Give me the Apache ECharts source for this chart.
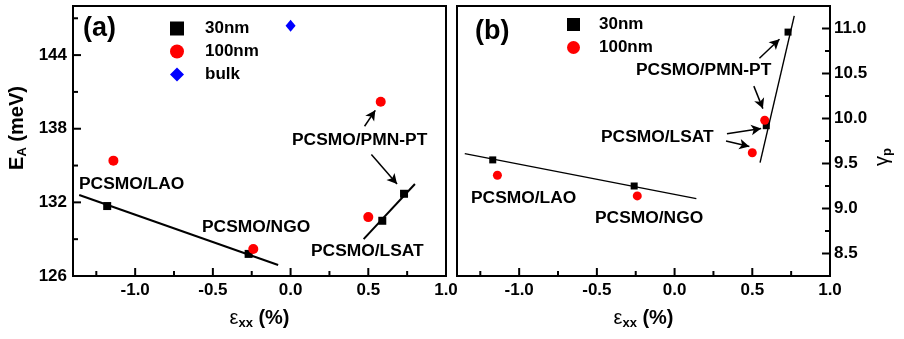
<!DOCTYPE html>
<html>
<head>
<meta charset="utf-8">
<script src="https://cdn.jsdelivr.net/npm/echarts@6/dist/echarts.min.js"></script>
<style>
  html, body { margin: 0; background: #fff; }
  #chart { width: 904px; height: 339px; }
</style>
</head>
<body>
<div id="chart"></div>
<script>
// tick values
const xTicks = [-1.0, -0.5, 0.0, 0.5, 1.0];
const xMinor = [-1.25, -0.75, -0.25, 0.25, 0.75];
const eaTicks = [126, 132, 138, 144];
const eaMinor = [129, 135, 141, 147];
const gTicks = [8.5, 9.0, 9.5, 10.0, 10.5, 11.0];
const gMinor = [8.75, 9.25, 9.75, 10.25, 10.75];

// (a) activation energy E_A (meV) vs strain
const ea30 = [[-1.18, 131.7], [-0.27, 127.8], [0.59, 130.5], [0.73, 132.7]];
const ea100 = [[-1.14, 135.4], [-0.24, 128.2], [0.50, 130.8], [0.58, 140.2]];
const eaBulk = [[0.0, 146.4]];
const eaFit1 = [[-1.36, 132.6], [-0.08, 126.9]];
const eaFit2 = [[0.47, 129.0], [0.80, 133.5]];
const eaArrows = [
  [[0.476, 138.2], [0.545, 139.5]],
  [[0.520, 135.9], [0.685, 133.5]]
];

// (b) gamma_p vs strain
const g30 = [[-1.17, 9.54], [-0.26, 9.25], [0.59, 9.92], [0.73, 10.96]];
const g100 = [[-1.14, 9.37], [-0.24, 9.14], [0.50, 9.62], [0.58, 9.98]];
const gFit1 = [[-1.35, 9.61], [0.14, 9.11]];
const gFit2 = [[0.55, 9.51], [0.77, 11.14]];
const gArrows = [
  [[0.546, 10.67], [0.675, 10.88]],
  [[0.510, 10.36], [0.568, 10.11]],
  [[0.337, 9.83], [0.557, 9.89]],
  [[0.331, 9.75], [0.481, 9.69]]
];

const X_MIN = -1.4, X_MAX = 1.0;
const EA_MIN = 126, EA_MAX = 148;
const G_MIN = 8.25, G_MAX = 11.25;

const FONT = '"Liberation Sans", Arial, sans-serif';
const bold17 = { color: '#000', fontSize: 17, fontWeight: 'bold', fontFamily: FONT };

const nameRich = {
  m: { fontSize: 20, fontWeight: 'bold', fontFamily: FONT, color: '#000', verticalAlign: 'top' },
  e: { fontSize: 20, fontFamily: FONT, color: '#000', verticalAlign: 'top' },
  s: { fontSize: 13, fontWeight: 'bold', fontFamily: FONT, color: '#000', verticalAlign: 'top', padding: [9, 0, 0, 0] }
};

function valueAxis(extra) {
  return Object.assign({
    type: 'value',
    axisLine: { show: true, onZero: false, lineStyle: { color: '#000', width: 2 } },
    axisTick: { show: false },
    splitLine: { show: false }
  }, extra);
}

// inward tick marks drawn with a custom series so they follow the axis scale
// dir: [dx, dy] direction of the tick from the axis line
function tickSeries(axisIdx, points, len, dir) {
  return {
    type: 'custom', xAxisIndex: axisIdx, yAxisIndex: axisIdx, silent: true, clip: false, z: 6,
    data: points,
    renderItem: (params, api) => {
      const p = api.coord([api.value(0), api.value(1)]);
      return {
        type: 'line',
        shape: { x1: p[0], y1: p[1], x2: p[0] + dir[0] * len, y2: p[1] + dir[1] * len },
        style: { stroke: '#000', lineWidth: 2 }
      };
    }
  };
}

const chart = echarts.init(document.getElementById('chart'));

const lineStyleA = { color: '#000', width: 2 };
const lineStyleB = { color: '#000', width: 1.4 };
const arrowMark = (list) => ({
  silent: true,
  symbol: ['none', 'arrow'],
  symbolSize: [8, 10],
  lineStyle: { color: '#000', width: 1.5, type: 'solid' },
  label: { show: false },
  emphasis: { disabled: true },
  data: list.map(a => [{ coord: a[0] }, { coord: a[1] }])
});

const notes = [
  ['(a)', 83, 29, 27],
  ['PCSMO/PMN-PT', 292, 140, 17.4],
  ['PCSMO/LAO', 79, 184, 17.4],
  ['PCSMO/NGO', 202, 227, 17.4],
  ['PCSMO/LSAT', 311, 251, 17.4],
  ['(b)', 475, 32, 27],
  ['PCSMO/PMN-PT', 636, 70, 17.4],
  ['PCSMO/LSAT', 601, 137, 17.4],
  ['PCSMO/LAO', 471, 198, 17.4],
  ['PCSMO/NGO', 595, 218, 17.4]
];

chart.setOption({
  animation: false,
  backgroundColor: '#fff',
  grid: [
    { left: 73, top: 6, width: 373, height: 270, show: true, borderColor: '#000', borderWidth: 2 },
    { left: 457, top: 6, width: 373, height: 270, show: true, borderColor: '#000', borderWidth: 2 }
  ],
  xAxis: [
    valueAxis({
      gridIndex: 0, position: 'bottom', min: X_MIN, max: X_MAX,
      axisLabel: Object.assign({ customValues: xTicks, margin: 6, formatter: v => v.toFixed(1) }, bold17),
      name: '{e|ε}{s|xx}{m| (%)}', nameLocation: 'middle', nameGap: 32,
      nameTextStyle: { rich: nameRich }
    }),
    valueAxis({
      gridIndex: 1, position: 'bottom', min: X_MIN, max: X_MAX,
      axisLabel: Object.assign({ customValues: xTicks, margin: 6, formatter: v => v.toFixed(1) }, bold17),
      name: '{e|ε}{s|xx}{m| (%)}', nameLocation: 'middle', nameGap: 32,
      nameTextStyle: { rich: nameRich }
    })
  ],
  yAxis: [
    valueAxis({
      gridIndex: 0, position: 'left', min: EA_MIN, max: EA_MAX,
      axisLabel: Object.assign({ customValues: eaTicks, margin: 6, formatter: v => String(v) }, bold17),
      name: '{m|E}{s|A}{m| (meV)}', nameLocation: 'middle', nameGap: 44, nameRotate: 90,
      nameTextStyle: { rich: nameRich, padding: [0, 0, 0, 26] }
    }),
    valueAxis({
      gridIndex: 1, position: 'right', min: G_MIN, max: G_MAX,
      axisLabel: Object.assign({ customValues: gTicks, margin: 4, formatter: v => v.toFixed(1) }, bold17),
      name: '{e|γ}{s|p}', nameLocation: 'middle', nameGap: 42, nameRotate: 90,
      nameTextStyle: { rich: nameRich, padding: [0, 32, 0, 0] }
    })
  ],
  legend: [
    {
      data: ['30nm', '100nm', 'bulk'], orient: 'vertical', left: 170, top: 17, padding: 0,
      itemWidth: 14, itemHeight: 14, itemGap: 0, selectedMode: false,
      textStyle: Object.assign({ lineHeight: 23, padding: [0, 0, 0, 16] }, bold17)
    },
    {
      data: ['30nm', '100nm'], orient: 'vertical', left: 567, top: 13, padding: 0,
      itemWidth: 13, itemHeight: 13, itemGap: 0, selectedMode: false,
      textStyle: Object.assign({ lineHeight: 23, padding: [0, 0, 0, 14] }, bold17)
    }
  ],
  graphic: notes.map(n => ({
    type: 'text', x: n[1], y: n[2], silent: true,
    style: { text: n[0], fill: '#000', fontSize: n[3], fontWeight: 'bold', fontFamily: FONT, verticalAlign: 'middle', align: 'left' }
  })),
  series: [
    { name: 'fitA1', type: 'line', xAxisIndex: 0, yAxisIndex: 0, data: eaFit1, showSymbol: false, lineStyle: lineStyleA, silent: true,
      markLine: arrowMark(eaArrows) },
    { name: 'fitA2', type: 'line', xAxisIndex: 0, yAxisIndex: 0, data: eaFit2, showSymbol: false, lineStyle: lineStyleA, silent: true },
    { name: '30nm', type: 'scatter', xAxisIndex: 0, yAxisIndex: 0, data: ea30, symbol: 'rect', symbolSize: 8, itemStyle: { color: '#000', opacity: 1 } },
    { name: '100nm', type: 'scatter', xAxisIndex: 0, yAxisIndex: 0, data: ea100, symbol: 'circle', symbolSize: 10, itemStyle: { color: '#ff0000', opacity: 1 } },
    { name: 'bulk', type: 'scatter', xAxisIndex: 0, yAxisIndex: 0, data: eaBulk, symbol: 'diamond', symbolSize: [10, 12], itemStyle: { color: '#0000ff', opacity: 1 } },

    { name: 'fitB1', type: 'line', xAxisIndex: 1, yAxisIndex: 1, data: gFit1, showSymbol: false, lineStyle: lineStyleB, silent: true,
      markLine: arrowMark(gArrows) },
    { name: 'fitB2', type: 'line', xAxisIndex: 1, yAxisIndex: 1, data: gFit2, showSymbol: false, lineStyle: lineStyleB, silent: true },
    { name: '30nm', type: 'scatter', xAxisIndex: 1, yAxisIndex: 1, data: g30, symbol: 'rect', symbolSize: 7, itemStyle: { color: '#000', opacity: 1 } },
    { name: '100nm', type: 'scatter', xAxisIndex: 1, yAxisIndex: 1, data: g100, symbol: 'circle', symbolSize: 9, itemStyle: { color: '#ff0000', opacity: 1 } },

    tickSeries(0, xTicks.map(v => [v, EA_MIN]), 8, [0, -1]),
    tickSeries(0, xMinor.map(v => [v, EA_MIN]), 5, [0, -1]),
    tickSeries(0, eaTicks.map(v => [X_MIN, v]), 8, [1, 0]),
    tickSeries(0, eaMinor.map(v => [X_MIN, v]), 5, [1, 0]),
    tickSeries(1, xTicks.map(v => [v, G_MIN]), 8, [0, -1]),
    tickSeries(1, xMinor.map(v => [v, G_MIN]), 5, [0, -1]),
    tickSeries(1, gTicks.map(v => [X_MAX, v]), 8, [-1, 0]),
    tickSeries(1, gMinor.map(v => [X_MAX, v]), 5, [-1, 0])
  ]
});
</script>
</body>
</html>
